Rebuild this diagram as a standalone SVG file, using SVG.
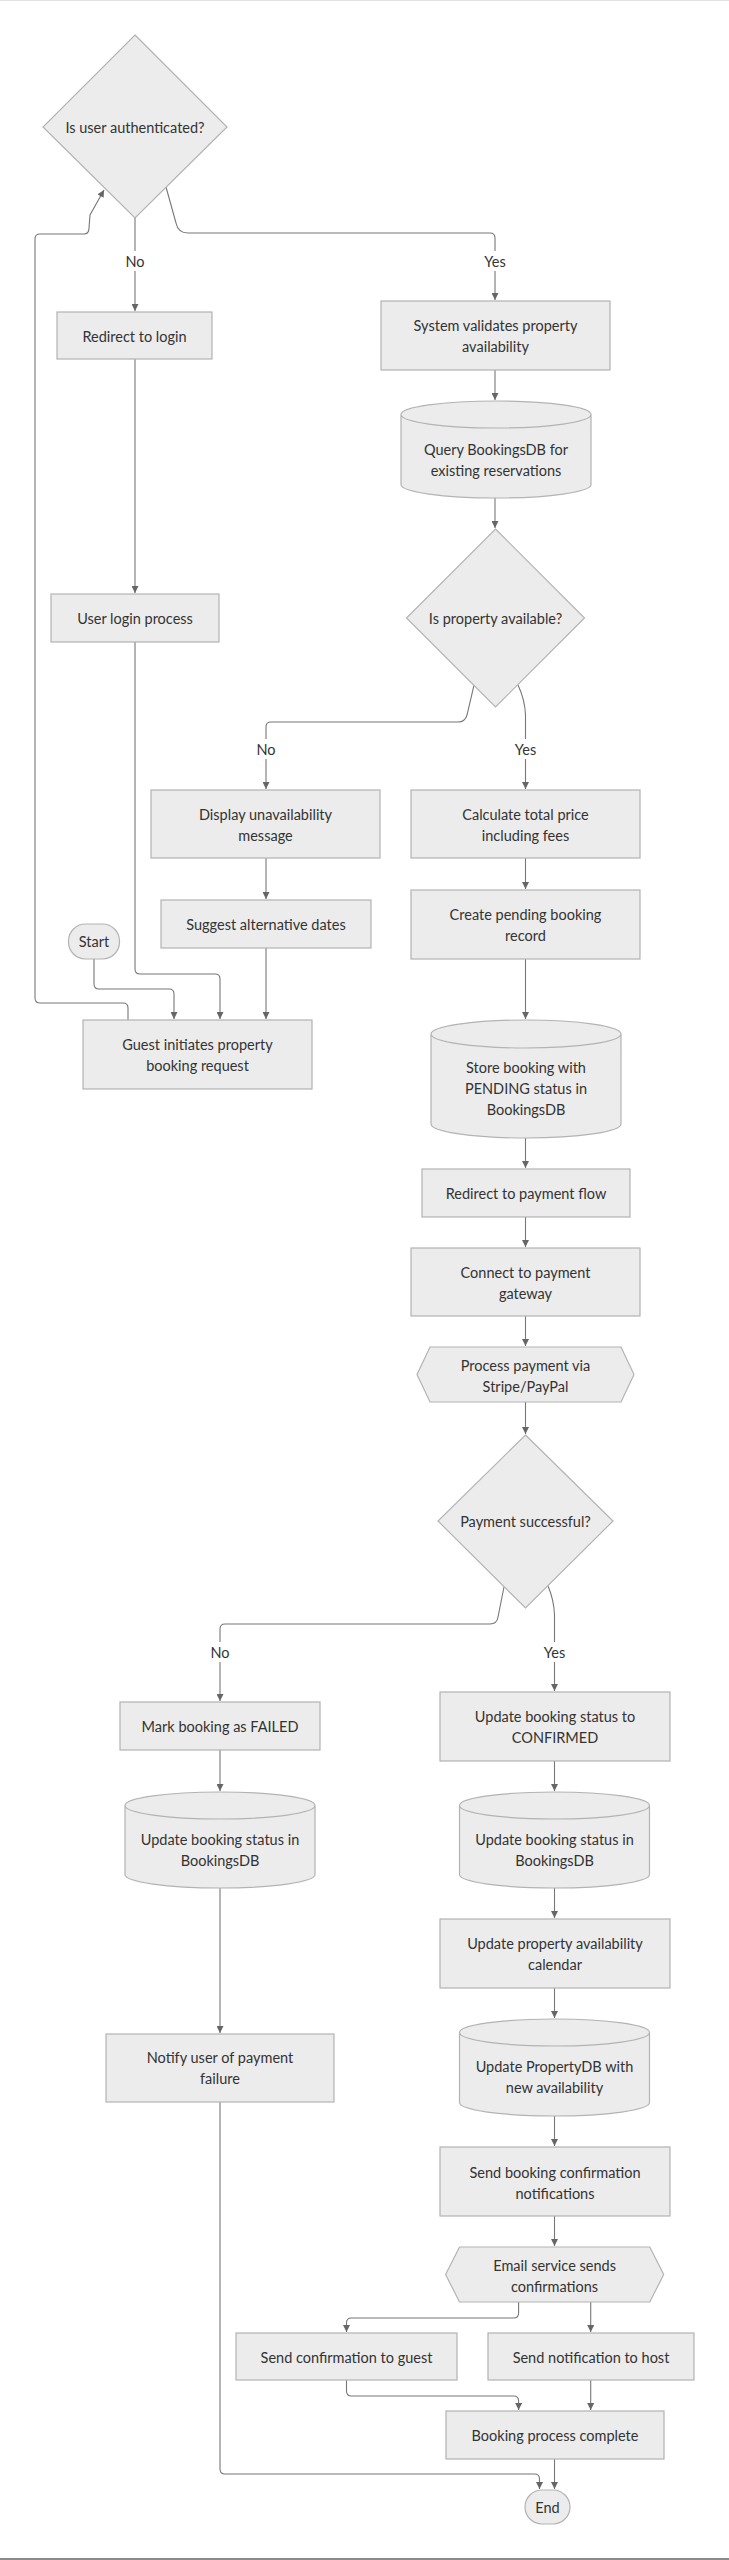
<svg xmlns="http://www.w3.org/2000/svg" width="729" height="2560" viewBox="0 0 729 2560">
<style>
.n{fill:#ececec;stroke:#b3b3b3;stroke-width:1.2}
.t{font-family:Lato,"Liberation Sans",sans-serif;font-size:14.5px;fill:#333;text-anchor:middle;dominant-baseline:central}
.e{fill:none;stroke:#777;stroke-width:1.1}
.lb{fill:#fff}
</style>
<defs>
<marker id="ah" viewBox="0 0 10 10" refX="10" refY="5" markerWidth="7" markerHeight="7" orient="auto" markerUnits="userSpaceOnUse">
<path d="M0,0 L10,5 L0,10 z" fill="#666"/>
</marker>
</defs>
<rect width="729" height="2560" fill="#fff"/>
<line x1="0" y1="0.5" x2="729" y2="0.5" stroke="#e4e4e4" stroke-width="1"/>
<line x1="0" y1="2559" x2="729" y2="2559" stroke="#8a8a8a" stroke-width="2"/>

<g id="connectors">
<path class="e" d="M94,959 L94,984 Q94,989 99,989 L169,989 Q174,989 174,994 L174,1019" marker-end="url(#ah)"/>
<path class="e" d="M128,1020 L128,1008 Q128,1003 123,1003 L40,1003 Q35,1003 35,998 L35,239 Q35,234 40,234 L84,234 Q89,234 89,228 L90,215 L104,190" marker-end="url(#ah)"/>
<path class="e" d="M135,218 L135,311" marker-end="url(#ah)"/>
<path class="e" d="M166,187 L176,223 Q178,233 188,233 L490,233 Q495,233 495,238 L495,300" marker-end="url(#ah)"/>
<path class="e" d="M135,359 L135,593" marker-end="url(#ah)"/>
<path class="e" d="M135,642 L135,969 Q135,974 140,974 L215,974 Q220,974 220,979 L220,1019" marker-end="url(#ah)"/>
<path class="e" d="M495,370 L495,400" marker-end="url(#ah)"/>
<path class="e" d="M495,498 L495,528" marker-end="url(#ah)"/>
<path class="e" d="M474,685 L467,715 Q465,722 458,722 L271,722 Q266,722 266,727 L266,789" marker-end="url(#ah)"/>
<path class="e" d="M518,685 Q525,700 525.5,715 L525.5,789" marker-end="url(#ah)"/>
<path class="e" d="M266,858 L266,899" marker-end="url(#ah)"/>
<path class="e" d="M266,948 L266,1019" marker-end="url(#ah)"/>
<path class="e" d="M525.5,858 L525.5,889" marker-end="url(#ah)"/>
<path class="e" d="M525.5,959 L525.5,1019" marker-end="url(#ah)"/>
<path class="e" d="M525.5,1138 L525.5,1168" marker-end="url(#ah)"/>
<path class="e" d="M525.5,1217 L525.5,1247" marker-end="url(#ah)"/>
<path class="e" d="M525.5,1316 L525.5,1346" marker-end="url(#ah)"/>
<path class="e" d="M525.5,1402 L525.5,1434" marker-end="url(#ah)"/>
<path class="e" d="M504,1587 L498,1617 Q497,1624 490,1624 L225,1624 Q220,1624 220,1629 L220,1701" marker-end="url(#ah)"/>
<path class="e" d="M548,1586 Q554,1600 554.5,1615 L554.5,1691" marker-end="url(#ah)"/>
<path class="e" d="M220,1750 L220,1791" marker-end="url(#ah)"/>
<path class="e" d="M554.5,1761 L554.5,1791" marker-end="url(#ah)"/>
<path class="e" d="M220,1888 L220,2033" marker-end="url(#ah)"/>
<path class="e" d="M554.5,1888 L554.5,1918" marker-end="url(#ah)"/>
<path class="e" d="M554.5,1988 L554.5,2018" marker-end="url(#ah)"/>
<path class="e" d="M554.5,2116 L554.5,2146" marker-end="url(#ah)"/>
<path class="e" d="M554.5,2216 L554.5,2246" marker-end="url(#ah)"/>
<path class="e" d="M518.6,2302 L518.6,2313 Q518.6,2318 513.6,2318 L351.5,2318 Q346.5,2318 346.5,2323 L346.5,2332" marker-end="url(#ah)"/>
<path class="e" d="M590.7,2302 L590.7,2332" marker-end="url(#ah)"/>
<path class="e" d="M346.5,2380 L346.5,2391 Q346.5,2396 351.5,2396 L513.6,2396 Q518.6,2396 518.6,2401 L518.6,2410" marker-end="url(#ah)"/>
<path class="e" d="M590.7,2380 L590.7,2410" marker-end="url(#ah)"/>
<path class="e" d="M554.5,2459 L554.5,2489" marker-end="url(#ah)"/>
<path class="e" d="M220,2102 L220,2469 Q220,2474 225,2474 L534.5,2474 Q539.5,2474 539.5,2479 L539.5,2489" marker-end="url(#ah)"/>
</g>

<g id="edge-labels">
<rect class="lb" x="124" y="251" width="22" height="20"/><text class="t" x="135" y="261">No</text>
<rect class="lb" x="482" y="251" width="26" height="20"/><text class="t" x="495" y="261">Yes</text>
<rect class="lb" x="255" y="739" width="22" height="20"/><text class="t" x="266" y="749">No</text>
<rect class="lb" x="512.5" y="739" width="26" height="20"/><text class="t" x="525.5" y="749">Yes</text>
<rect class="lb" x="209" y="1642" width="22" height="20"/><text class="t" x="220" y="1652">No</text>
<rect class="lb" x="541.5" y="1642" width="26" height="20"/><text class="t" x="554.5" y="1652">Yes</text>
</g>

<g id="auth">
<polygon class="n" points="135,35 227,127 135,218 43,127"/>
<text class="t" x="135" y="127">Is user authenticated?</text>
</g>
<g id="redirectLogin">
<rect class="n" x="57" y="312" width="155" height="47"/>
<text class="t" x="134.5" y="336">Redirect to login</text>
</g>
<g id="validate">
<rect class="n" x="381" y="301" width="229" height="69"/>
<text class="t" x="495.5" y="325">System validates property</text>
<text class="t" x="495.5" y="346">availability</text>
</g>
<g id="queryDB">
<path class="n" d="M401,414.5 a95,13.5 0 0 0 190,0 a95,13.5 0 0 0 -190,0 l0,70 a95,13.5 0 0 0 190,0 l0,-70"/>
<text class="t" x="496" y="449">Query BookingsDB for</text>
<text class="t" x="496" y="470">existing reservations</text>
</g>
<g id="userLogin">
<rect class="n" x="51" y="594" width="168" height="48"/>
<text class="t" x="135" y="618.5">User login process</text>
</g>
<g id="available">
<polygon class="n" points="495.5,529 584.5,618 495.5,707 406.5,618"/>
<text class="t" x="495.5" y="618.5">Is property available?</text>
</g>
<g id="display">
<rect class="n" x="151" y="790" width="229" height="68"/>
<text class="t" x="265.5" y="814">Display unavailability</text>
<text class="t" x="265.5" y="835">message</text>
</g>
<g id="calculate">
<rect class="n" x="411" y="790" width="229" height="68"/>
<text class="t" x="525.5" y="814">Calculate total price</text>
<text class="t" x="525.5" y="835">including fees</text>
</g>
<g id="suggest">
<rect class="n" x="161" y="900" width="210" height="48"/>
<text class="t" x="266" y="924.5">Suggest alternative dates</text>
</g>
<g id="create">
<rect class="n" x="411" y="890" width="229" height="69"/>
<text class="t" x="525.5" y="914">Create pending booking</text>
<text class="t" x="525.5" y="935">record</text>
</g>
<g id="start">
<rect class="n" x="68.5" y="924" width="51" height="35" rx="17" ry="17"/>
<text class="t" x="94" y="941.5">Start</text>
</g>
<g id="guest">
<rect class="n" x="83" y="1020" width="229" height="69"/>
<text class="t" x="197.5" y="1044.5">Guest initiates property</text>
<text class="t" x="197.5" y="1065.5">booking request</text>
</g>
<g id="storeDB">
<path class="n" d="M431,1034 a95,14 0 0 0 190,0 a95,14 0 0 0 -190,0 l0,90 a95,14 0 0 0 190,0 l0,-90"/>
<text class="t" x="526" y="1067">Store booking with</text>
<text class="t" x="526" y="1088">PENDING status in</text>
<text class="t" x="526" y="1109">BookingsDB</text>
</g>
<g id="redirectPay">
<rect class="n" x="422" y="1169" width="208" height="48"/>
<text class="t" x="526" y="1193.5">Redirect to payment flow</text>
</g>
<g id="connect">
<rect class="n" x="411" y="1248" width="229" height="68"/>
<text class="t" x="525.5" y="1272">Connect to payment</text>
<text class="t" x="525.5" y="1293">gateway</text>
</g>
<g id="process">
<polygon class="n" points="417,1374.5 430,1347 621,1347 634,1374.5 621,1402 430,1402"/>
<text class="t" x="525.5" y="1365">Process payment via</text>
<text class="t" x="525.5" y="1386">Stripe/PayPal</text>
</g>
<g id="paid">
<polygon class="n" points="525.5,1435 613,1521 525.5,1608 438,1521"/>
<text class="t" x="525.5" y="1521">Payment successful?</text>
</g>
<g id="failed">
<rect class="n" x="120" y="1702" width="200" height="48"/>
<text class="t" x="220" y="1726.5">Mark booking as FAILED</text>
</g>
<g id="confirmed">
<rect class="n" x="440" y="1692" width="230" height="69"/>
<text class="t" x="555" y="1716">Update booking status to</text>
<text class="t" x="555" y="1737">CONFIRMED</text>
</g>
<g id="failDB">
<path class="n" d="M125,1805.5 a95,13.5 0 0 0 190,0 a95,13.5 0 0 0 -190,0 l0,69 a95,13.5 0 0 0 190,0 l0,-69"/>
<text class="t" x="220" y="1839">Update booking status in</text>
<text class="t" x="220" y="1860">BookingsDB</text>
</g>
<g id="confirmDB">
<path class="n" d="M459.5,1805.5 a95,13.5 0 0 0 190,0 a95,13.5 0 0 0 -190,0 l0,69 a95,13.5 0 0 0 190,0 l0,-69"/>
<text class="t" x="554.5" y="1839">Update booking status in</text>
<text class="t" x="554.5" y="1860">BookingsDB</text>
</g>
<g id="calendar">
<rect class="n" x="440" y="1919" width="230" height="69"/>
<text class="t" x="555" y="1943.5">Update property availability</text>
<text class="t" x="555" y="1964.5">calendar</text>
</g>
<g id="notifyFail">
<rect class="n" x="106" y="2034" width="228" height="68"/>
<text class="t" x="220" y="2057.5">Notify user of payment</text>
<text class="t" x="220" y="2078.5">failure</text>
</g>
<g id="propertyDB">
<path class="n" d="M459.5,2032.5 a95,13.5 0 0 0 190,0 a95,13.5 0 0 0 -190,0 l0,70 a95,13.5 0 0 0 190,0 l0,-70"/>
<text class="t" x="554.5" y="2066">Update PropertyDB with</text>
<text class="t" x="554.5" y="2087">new availability</text>
</g>
<g id="sendNotif">
<rect class="n" x="440" y="2147" width="230" height="69"/>
<text class="t" x="555" y="2172">Send booking confirmation</text>
<text class="t" x="555" y="2193">notifications</text>
</g>
<g id="email">
<polygon class="n" points="445.6,2274.5 459.5,2247 649.8,2247 663.7,2274.5 649.8,2302 459.5,2302"/>
<text class="t" x="554.6" y="2265">Email service sends</text>
<text class="t" x="554.6" y="2286">confirmations</text>
</g>
<g id="guestConf">
<rect class="n" x="236" y="2333" width="221" height="47"/>
<text class="t" x="346.5" y="2357">Send confirmation to guest</text>
</g>
<g id="hostNotif">
<rect class="n" x="488" y="2333" width="206" height="47"/>
<text class="t" x="591" y="2357">Send notification to host</text>
</g>
<g id="complete">
<rect class="n" x="446" y="2411" width="218" height="48"/>
<text class="t" x="555" y="2435.5">Booking process complete</text>
</g>
<g id="end">
<rect class="n" x="525" y="2490" width="45" height="34" rx="17" ry="17"/>
<text class="t" x="547.5" y="2507">End</text>
</g>
</svg>
